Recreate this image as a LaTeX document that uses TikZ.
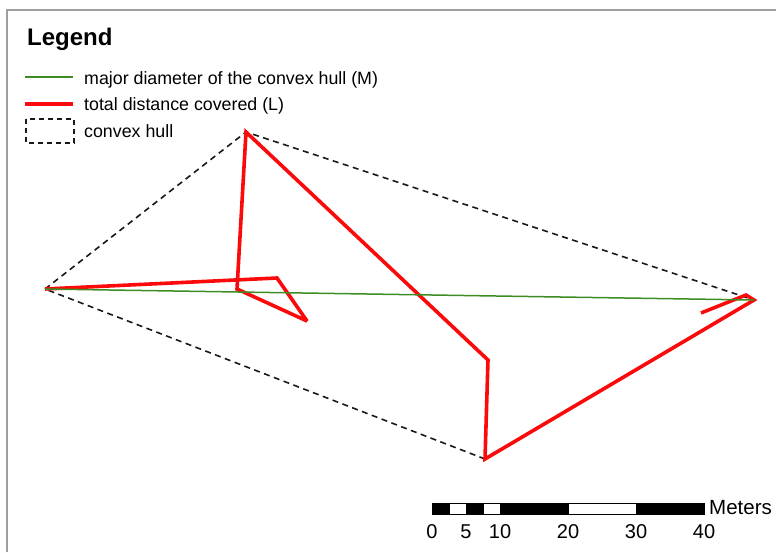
\documentclass[tikz,border=0pt]{standalone}
\usepackage{fontspec}
\setmainfont{Liberation Sans}
\usetikzlibrary{positioning}
\definecolor{diamgreen}{RGB}{62,140,36}
\definecolor{trackred}{RGB}{250,10,10}

\begin{document}
\begin{tikzpicture}[
        x=1pt, y=-1pt,
        hull/.style={draw=black!90, line width=1.6pt, dash pattern=on 6pt off 4.5pt},
        track/.style={draw=trackred, line width=3.6pt, line join=miter, miter limit=3},
        diam/.style={draw=diamgreen, line width=1.5pt},
        itemtext/.style={font=\fontsize{17.8}{20}\selectfont, inner sep=0pt, anchor=base west},
        scaletext/.style={font=\fontsize{20}{22}\selectfont, inner sep=0pt, anchor=base}
    ]
        \useasboundingbox (0,0) rectangle (776,552);
        \draw[gray!75, line width=2pt] (7,552) -- (7,9.5) -- (776,9.5);

        % legend
        \node[itemtext, font=\fontsize{24}{28}\selectfont\bfseries] (legend) at (27,45) {Legend};
        \node[itemtext] (mtext) at (84,84) {major diameter of the convex hull (M)};
        \node[itemtext] (ltext) at (84,110.5) {total distance covered (L)};
        \node[itemtext] (htext) at (84,137) {convex hull};
        \draw[diam] (25,77) -- (73,77);
        \draw[track] (25,104) -- (73,104);
        \draw[hull, dash pattern=on 5pt off 4pt] (26,119) rectangle (74,143);

        % convex hull
        \coordinate (west) at (45,289);
        \coordinate (north) at (246,132);
        \coordinate (east) at (754,300);
        \coordinate (south) at (485,459);
        \draw[hull] (west) -- (north) -- (east) -- (south) -- cycle;

        % track
        \coordinate (p1) at (277,278);
        \coordinate (p2) at (307,321);
        \coordinate (p3) at (237,289);
        \coordinate (p4) at (488,360);
        \coordinate (p5) at (746,295);
        \coordinate (p6) at (701,313);
        \draw[track] (west) -- (p1) -- (p2) -- (p3) -- (north) -- (p4) -- (south) -- (east) -- (p5) -- (p6);

        \draw[diam] (west) -- (east);

        % scale bar
        \foreach \a/\b/\c in {0/2.5/black, 2.5/5/white, 5/7.5/black, 7.5/10/white, 10/20/black, 20/30/white, 30/40/black}
            \draw[black, line width=0.6pt, fill=\c] (432+6.8*\a,503) rectangle (432+6.8*\b,514);
        \foreach \m in {0,5,10,20,30,40}
            \node[scaletext] (s\m) at (432+6.8*\m,538) {\m};
        \node[itemtext, font=\fontsize{20.5}{22}\selectfont] (meters) at (709,514) {Meters};
    \end{tikzpicture}
\end{document}
